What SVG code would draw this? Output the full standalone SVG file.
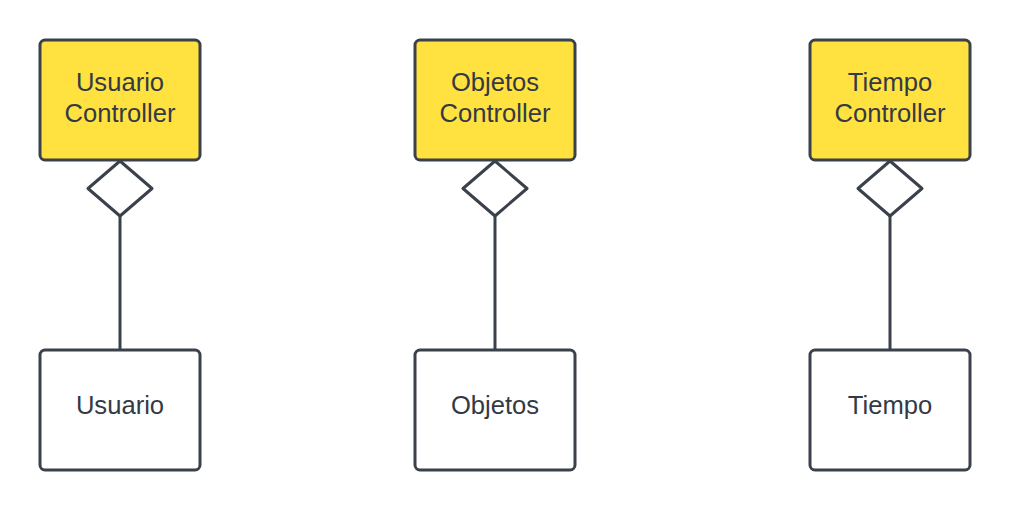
<svg xmlns="http://www.w3.org/2000/svg" width="1011" height="510" viewBox="0 0 1011 510">
<style>
.ctrl{fill:#ffe140;stroke:#3a414a;stroke-width:3}
.ent{fill:#ffffff;stroke:#3a414a;stroke-width:3}
.dia{fill:#ffffff;stroke:#3a414a;stroke-width:3;stroke-linejoin:round}
.ln{stroke:#3a414a;stroke-width:3;fill:none}
text{font-family:"Liberation Sans",Arial,sans-serif;font-size:25.6px;fill:#333a45;text-anchor:middle}
</style>
<rect width="1011" height="510" fill="#ffffff"/>
<g id="connectors">
<line class="ln" x1="120" y1="216" x2="120" y2="350"/>
<polygon class="dia" points="120,161 152,188.5 120,216 88,188.5"/>
<line class="ln" x1="495" y1="216" x2="495" y2="350"/>
<polygon class="dia" points="495,161 527,188.5 495,216 463,188.5"/>
<line class="ln" x1="890" y1="216" x2="890" y2="350"/>
<polygon class="dia" points="890,161 922,188.5 890,216 858,188.5"/>
</g>
<g id="usuario-controller">
<rect class="ctrl" x="40" y="40" width="160" height="120" rx="5"/>
<text x="120" y="91">Usuario</text>
<text x="120" y="122">Controller</text>
</g>
<g id="objetos-controller">
<rect class="ctrl" x="415" y="40" width="160" height="120" rx="5"/>
<text x="495" y="91">Objetos</text>
<text x="495" y="122">Controller</text>
</g>
<g id="tiempo-controller">
<rect class="ctrl" x="810" y="40" width="160" height="120" rx="5"/>
<text x="890" y="91">Tiempo</text>
<text x="890" y="122">Controller</text>
</g>
<g id="usuario">
<rect class="ent" x="40" y="350" width="160" height="120" rx="5"/>
<text x="120" y="414">Usuario</text>
</g>
<g id="objetos">
<rect class="ent" x="415" y="350" width="160" height="120" rx="5"/>
<text x="495" y="414">Objetos</text>
</g>
<g id="tiempo">
<rect class="ent" x="810" y="350" width="160" height="120" rx="5"/>
<text x="890" y="414">Tiempo</text>
</g>
</svg>
